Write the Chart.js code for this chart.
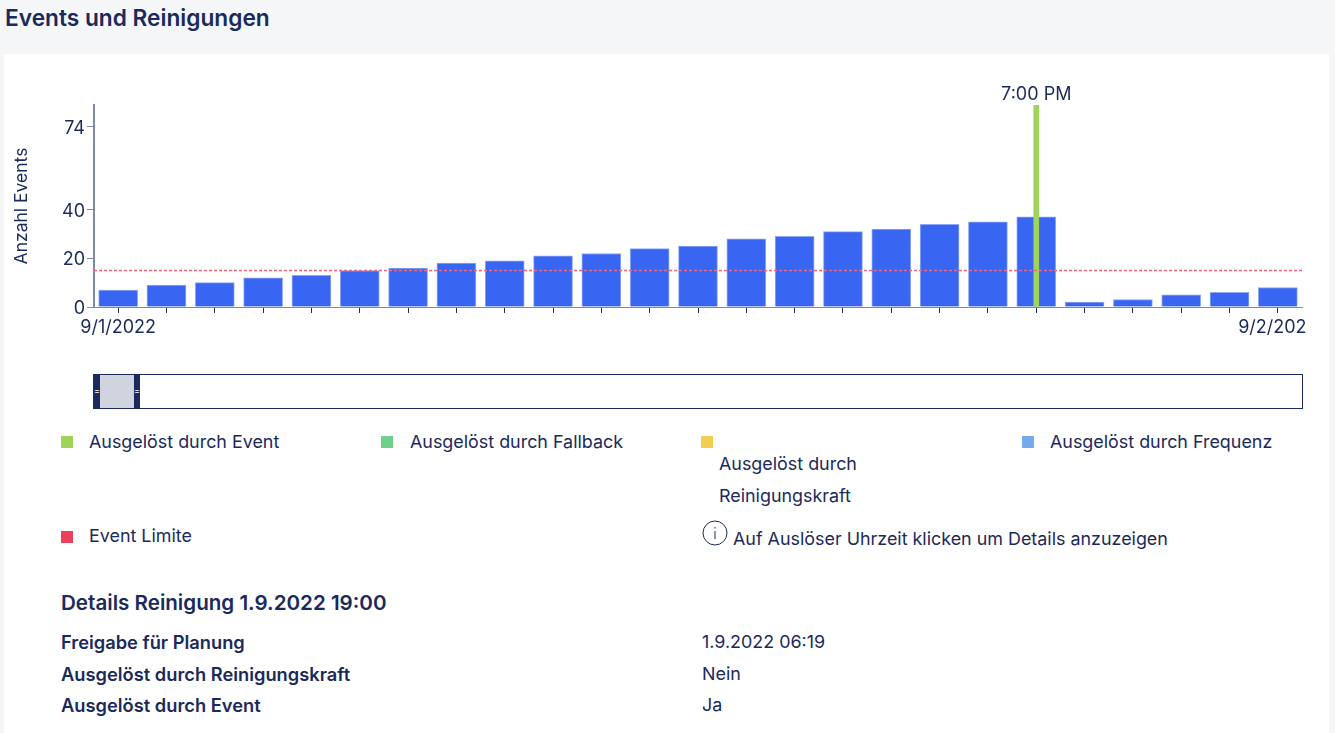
<!DOCTYPE html>
<html lang="de">
<head>
<meta charset="utf-8">
<title>Events und Reinigungen</title>
<script src="https://cdn.jsdelivr.net/npm/chart.js@4"></script>
<style>
  html, body { margin: 0; padding: 0; }
  body { width: 1335px; height: 733px; overflow: hidden; background: #f5f6f8; font-family: Inter, sans-serif; color: #1b2a5c; position: relative; }
  #panel { position: absolute; left: 4px; top: 54px; width: 1325px; height: 679px; background: #fff; }
  #grafico { position: absolute; left: 0; top: 70px; }
  h1 { position: absolute; left: 5px; top: 5px; margin: 0; font-size: 22.7px; line-height: 26px; font-weight: 600; }
  .abs { position: absolute; white-space: nowrap; font-size: 17.9px; line-height: 24px; }
  .sw { position: absolute; width: 12px; height: 12px; }
  .fett { font-weight: 600; font-size: 18.3px; }
  #brush { position: absolute; left: 93px; top: 374px; width: 1208px; height: 33px; border: 1px solid #1b2a5c; background: #fff; }
  #griffL, #griffR { position: absolute; top: 0; width: 6px; height: 33px; background: #1b2a5c; }
  #griffL { left: 0; } #griffR { left: 40px; }
  #griffL::after, #griffR::after { content: "="; position: absolute; left: 0; width: 6px; top: 10px; color: #fff; font-size: 9px; line-height: 12px; text-align: center; }
  #auswahl { position: absolute; left: 6px; top: 0; width: 34px; height: 33px; background: #d0d4df; }
</style>
</head>
<body>
<h1>Events und Reinigungen</h1>
<div id="panel"></div>
<canvas id="grafico" width="1306" height="270"></canvas>

<div id="brush"><div id="griffL"></div><div id="auswahl"></div><div id="griffR"></div></div>

<div class="sw" style="left:61px;top:436px;background:#9fd45a"></div>
<div class="abs" style="left:89px;top:430px">Ausgelöst durch Event</div>
<div class="sw" style="left:381px;top:436px;background:#6fd08c"></div>
<div class="abs" style="left:410px;top:430px">Ausgelöst durch Fallback</div>
<div class="sw" style="left:701px;top:436px;background:#f2cd50"></div>
<div class="abs" style="left:719px;top:452px">Ausgelöst durch</div>
<div class="abs" style="left:719px;top:484px">Reinigungskraft</div>
<div class="sw" style="left:1022px;top:436px;background:#74aaec"></div>
<div class="abs" style="left:1050px;top:430px">Ausgelöst durch Frequenz</div>
<div class="sw" style="left:61px;top:531px;background:#ee4059"></div>
<div class="abs" style="left:89px;top:524px">Event Limite</div>
<svg style="position:absolute;left:702px;top:520px" width="26" height="26" viewBox="0 0 26 26" fill="none" stroke="#1b2a5c" stroke-width="1">
  <circle cx="13" cy="13" r="12"/><line x1="13" y1="11" x2="13" y2="19"/><line x1="13" y1="7" x2="13" y2="8.5"/>
</svg>
<div class="abs" style="left:733px;top:527px">Auf Auslöser Uhrzeit klicken um Details anzuzeigen</div>

<div class="abs fett" style="left:61px;top:591px;font-size:20.6px">Details Reinigung 1.9.2022 19:00</div>
<div class="abs fett" style="left:61px;top:630px">Freigabe für Planung</div>
<div class="abs" style="left:702px;top:630px">1.9.2022 06:19</div>
<div class="abs fett" style="left:61px;top:662px">Ausgelöst durch Reinigungskraft</div>
<div class="abs" style="left:702px;top:662px">Nein</div>
<div class="abs fett" style="left:61px;top:693px">Ausgelöst durch Event</div>
<div class="abs" style="left:702px;top:693px">Ja</div>

<script>
// Daten
const kategorien = ['9/1/2022', '1:00 AM', '2:00 AM', '3:00 AM', '4:00 AM', '5:00 AM', '6:00 AM', '7:00 AM', '8:00 AM', '9:00 AM', '10:00 AM', '11:00 AM',
  '12:00 PM', '1:00 PM', '2:00 PM', '3:00 PM', '4:00 PM', '5:00 PM', '6:00 PM', '7:00 PM', '8:00 PM', '9:00 PM', '10:00 PM', '11:00 PM', '9/2/2022'];
const anzahlEvents = [7, 9, 10, 12, 13, 15, 16, 18, 19, 21, 22, 24, 25, 28, 29, 31, 32, 34, 35, 37, 2, 3, 5, 6, 8];
const ausgeloestDurchEvent = [null, null, null, null, null, null, null, null, null, null, null, null, null, null, null, null, null, null, null, 83, null, null, null, null, null];
const eventLimite = [15, 15];
const yTicks = [0, 20, 40, 74];
const yMax = 83;
const datumLabels = ['9/1/2022', '9/2/2022'];
const ausloeserLabels = ['7:00 PM'];

const FARBE_TEXT = '#1b2a5c';
const FARBE_ACHSE = '#7f8aab';

Chart.defaults.font.family = 'Inter, sans-serif';
Chart.defaults.font.size = 18;
Chart.defaults.color = FARBE_TEXT;

function inicializarGrafico() {
    const ctx = document.getElementById('grafico').getContext('2d');

    new Chart(ctx, {
        data: {
            labels: kategorien,
            datasets: [
                {
                    type: 'line',
                    label: 'Event Limite',
                    data: eventLimite,
                    xAxisID: 'xLimit',
                    borderColor: '#f0667c',
                    borderWidth: 1.5,
                    borderDash: [3, 2],
                    pointRadius: 0,
                    order: 0
                },
                {
                    type: 'bar',
                    label: 'Ausgelöst durch Event',
                    data: ausgeloestDurchEvent,
                    backgroundColor: '#9fd45a',
                    barThickness: 5,
                    grouped: false,
                    order: 1
                },
                {
                    type: 'bar',
                    label: 'Anzahl Events',
                    data: anzahlEvents,
                    backgroundColor: '#3866f2',
                    borderColor: '#8fa8f6',
                    borderWidth: 1,
                    barThickness: 39,
                    grouped: false,
                    order: 2
                }
            ]
        },
        options: {
            responsive: false,
            animation: false,
            layout: { padding: { right: 4 } },
            plugins: { legend: { display: false }, tooltip: { enabled: false } },
            scales: {
                x: {
                    position: 'bottom',
                    offset: true,
                    grid: { display: true, offset: false, drawOnChartArea: false, drawTicks: true, tickLength: 6, color: FARBE_TEXT, tickWidth: 1 },
                    border: { color: FARBE_ACHSE, width: 1 },
                    ticks: {
                        autoSkip: false,
                        maxRotation: 0,
                        padding: 4,
                        callback(value) {
                            const label = this.getLabelForValue(value);
                            return datumLabels.includes(label) ? label : '';
                        }
                    },
                    afterFit(scale) { scale.height = 33; scale.paddingLeft = 0; scale.paddingRight = 0; }
                },
                xOben: {
                    position: 'top',
                    offset: true,
                    grid: { display: false, drawTicks: false },
                    border: { display: false },
                    ticks: {
                        autoSkip: false,
                        maxRotation: 0,
                        padding: 0,
                        callback(value) {
                            const label = this.getLabelForValue(value);
                            return ausloeserLabels.includes(label) ? label : '';
                        }
                    },
                    afterFit(scale) { scale.height = 35; scale.paddingLeft = 0; scale.paddingRight = 0; }
                },
                xLimit: {
                    type: 'category',
                    labels: ['start', 'ende'],
                    display: false,
                    offset: false
                },
                y: {
                    min: 0,
                    max: yMax,
                    grid: { display: true, drawOnChartArea: false, tickLength: 7, color: FARBE_ACHSE },
                    border: { color: FARBE_ACHSE, width: 2 },
                    title: { display: true, text: 'Anzahl Events', padding: { top: 11, bottom: 0 }, font: { size: 17.5 } },
                    ticks: { padding: 2, autoSkip: false, labelOffset: 1.5 },
                    afterBuildTicks(scale) { scale.ticks = yTicks.map(value => ({ value })); },
                    afterFit(scale) { scale.width = 94; }
                }
            }
        }
    });
}

document.addEventListener('DOMContentLoaded', inicializarGrafico);
</script>
</body>
</html>
